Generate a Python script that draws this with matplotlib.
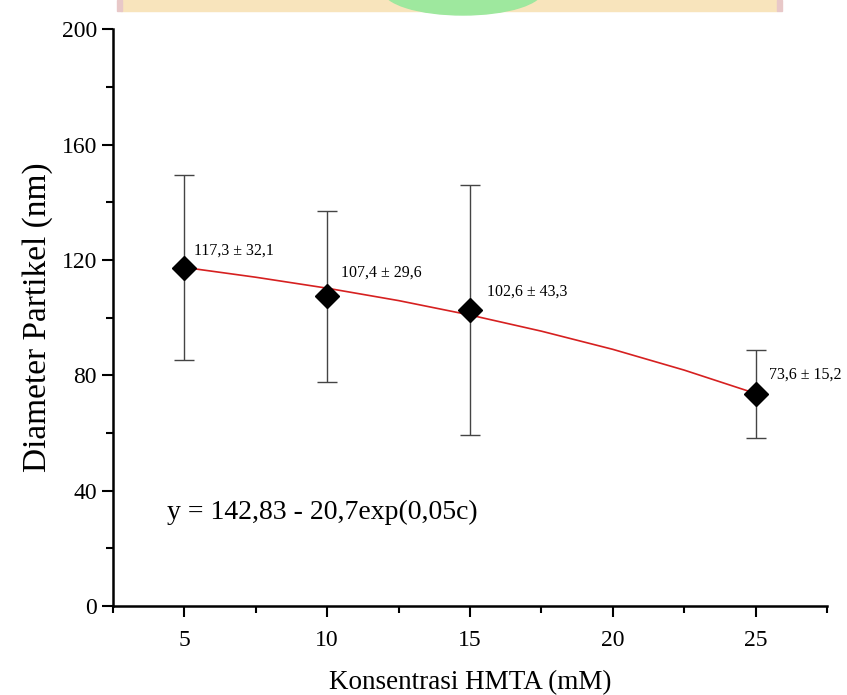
import numpy as np
import matplotlib.pyplot as plt
from matplotlib.patches import Rectangle, Ellipse
from matplotlib.ticker import MultipleLocator

plt.rcParams['font.family'] = ['Liberation Serif', 'DejaVu Serif']

# data
konsentrasi = [5, 10, 15, 25]
diameter = [117.3, 107.4, 102.6, 73.6]
sd = [32.1, 29.6, 43.3, 15.2]
labels = ['117,3 ± 32,1', '107,4 ± 29,6', '102,6 ± 43,3', '73,6 ± 15,2']

# fitted curve as it appears on the chart
fit_c = [5, 7.5, 10, 12.5, 15, 17.5, 20, 22.5, 25]
fit_y = [117.4, 114.0, 110.2, 105.9, 100.9, 95.3, 89.0, 81.8, 73.7]

label_offsets = [(7, 12.5), (10, 17), (12, 13.5), (10, 14)]  # points

fig = plt.figure(figsize=(8.47, 6.95), dpi=100)
ax = fig.add_axes([0.1334, 0.128, 0.8430, 0.830])

# faint logo watermark cut at the top edge
fig.patches.append(Rectangle((121/847, 1 - 11/695), (777-121)/847, 11/695,
                             transform=fig.transFigure, color='#f8e4bc', zorder=0))
fig.patches.append(Ellipse((463/847, 1 + 10/695), 160/847, 50/695,
                           transform=fig.transFigure, color='#9ee89e', zorder=0))
for xp in (117, 777):
    fig.patches.append(Rectangle((xp/847, 1 - 11/695), 5/847, 11/695,
                                 transform=fig.transFigure, color='#e8c8c8', zorder=0))

ax.plot(fit_c, fit_y, color='#d62020', lw=1.2, zorder=2)
ax.errorbar(konsentrasi, diameter, yerr=sd, fmt='D', color='black', ms=12,
            ecolor='#444444', elinewidth=1.0, capsize=7, capthick=1.0, zorder=3)

for x, y, t, off in zip(konsentrasi, diameter, labels, label_offsets):
    ax.annotate(t, (x, y), xytext=off, textcoords='offset points',
                fontsize=11.5, ha='left', va='center', annotation_clip=False)

ax.text(4.4, 32.5, 'y = 142,83 - 20,7exp(0,05c)', fontsize=20, va='center', ha='left')

ax.set_xlim(2.5, 27.5)
ax.set_ylim(0, 200)
ax.xaxis.set_major_locator(MultipleLocator(5))
ax.xaxis.set_minor_locator(MultipleLocator(2.5))
ax.yaxis.set_major_locator(MultipleLocator(40))
ax.yaxis.set_minor_locator(MultipleLocator(20))
ax.tick_params(which='major', direction='out', length=8, width=1.5, labelsize=17)
ax.tick_params(which='minor', direction='out', length=5, width=1.5)
ax.tick_params(axis='x', which='major', pad=9)
for s in ('top', 'right'):
    ax.spines[s].set_visible(False)
for s in ('left', 'bottom'):
    ax.spines[s].set_linewidth(1.8)

ax.set_xlabel('Konsentrasi HMTA (mM)', fontsize=19.5, labelpad=14)
ax.set_ylabel('Diameter Partikel (nm)', fontsize=24, labelpad=6)

fig.savefig('out.png', dpi=100)
